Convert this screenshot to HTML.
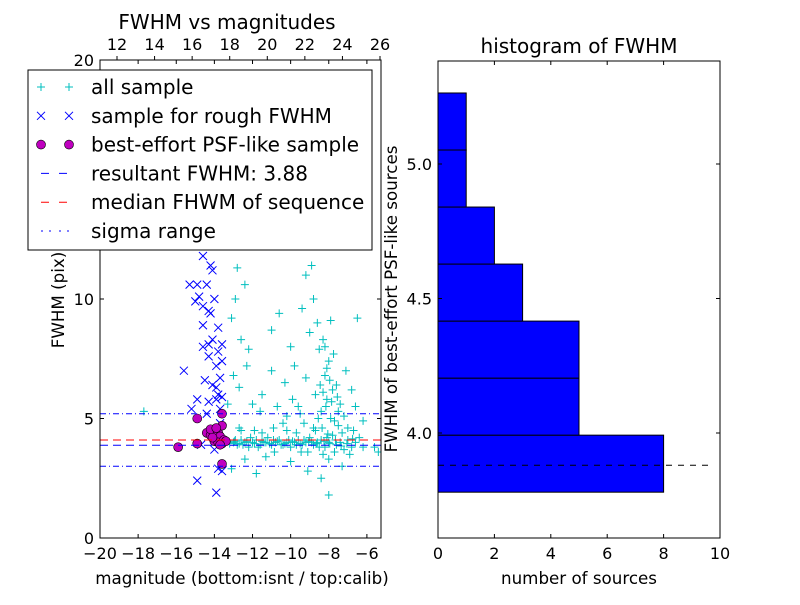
<!DOCTYPE html>
<html><head><meta charset="utf-8"><style>
body{margin:0;background:#fff;}
svg{font-family:"DejaVu Sans","Liberation Sans",sans-serif;}
</style></head><body>
<svg id="c" width="800" height="600" viewBox="0 0 800 600">
<rect width="800" height="600" fill="#fff"/>
</svg>
<script>
// ---- data ----
const allSample = [
[-13,4.0],[-12.8,3.9],[-12.6,4.1],[-12.4,4.0],[-12.2,3.8],[-12,4.0],[-11.8,4.1],[-11.6,3.9],[-11.4,4.0],[-11.2,4.2],[-11,3.9],[-10.8,4.0],[-10.6,4.1],[-10.4,3.9],[-10.2,4.0],[-10,3.8],[-9.8,4.0],[-9.6,4.1],[-9.4,3.9],[-9.2,4.0],[-9,4.2],[-8.8,3.9],[-8.6,4.0],[-8.4,4.1],[-8.2,3.8],[-8,4.0],[-7.8,4.3],[-7.6,3.9],[-7.4,4.0],[-7.2,3.7],[-7,4.1],[-6.8,3.8],[-6.6,4.0],[-6.4,4.2],[-6.2,3.8],
[-12.9,4.1],[-12.5,3.9],[-12.1,4.2],[-11.7,3.8],[-11.3,4.0],[-10.9,4.1],[-10.5,3.9],[-10.1,4.1],[-9.7,3.9],[-9.3,4.1],[-8.9,4.0],[-8.5,3.8],[-8.1,4.2],[-7.7,3.6],[-7.3,4.4],[-6.9,3.5],[-8.3,3.5],[-8.7,4.5],[-9.1,3.6],[-7.5,4.7],[-8,3.3],[-7.9,5.0],[-8.4,5.3],[-8.1,5.8],[-7.8,6.2],[-8.2,6.8],[-8.0,7.4],[-7.6,6.4],[-8.5,7.9],[-7.4,5.6],[-7.2,5.1],
[-13.2,3.95],[-12.95,4.05],[-12.7,3.95],[-12.3,4.05],[-11.9,3.95],[-11.5,4.05],[-11.1,3.95],[-10.7,4.05],[-10.3,3.95],[-9.9,4.05],[-9.5,3.95],[-9.05,4.05],[-8.65,3.95],[-8.25,4.05],[-7.95,3.95],[-7.65,4.1],[-7.35,3.85],[-7.05,3.95],[-6.75,4.15],[-8.05,4.35],[-8.35,4.6],[-7.7,4.9],[-8.15,5.5],[-7.85,5.7],[-8.3,6.1],[-7.95,6.6],[-8.1,7.1],[-7.75,7.7],[-8.2,8.0],[-8.45,6.4],[-7.55,5.9],[-8.55,5.0],[-9.7,4.4],[-10.2,4.5],[-11.5,4.4],[-12.6,4.5],[-9.45,3.6],[-10.85,3.6],
[-12.7,6.3],[-12.3,7.2],[-12.6,8.3],[-13.1,9.2],[-12.9,10.0],[-12.4,10.6],[-12.8,11.3],[-11.5,6.0],[-11,7.0],[-10.7,5.5],[-10.3,6.5],[-10,8.0],[-9.8,7.2],[-9.5,5.2],[-9.2,6.7],[-9.0,8.6],[-9.4,9.6],[-9.2,11.0],[-8.9,11.4],[-8.8,10.0],[-8.6,9.0],[-8.3,8.3],[-7.9,9.1],[-6.5,9.2],[-6.8,6.2],[-7.1,7.0],[-6.6,5.5],[-10.9,4.6],[-11.6,5.3],[-12.0,5.6],[-10.4,4.8],[-9.9,5.8],[-11.3,3.4],[-10.0,3.2],[-9.1,2.8],[-8.4,2.5],[-7.3,3.0],[-11.8,2.7],[-8.0,1.8],[-12.4,3.3],[-13.1,2.9],[-17.7,5.3],[-13.3,5.6],[-13.0,6.8],[-12.2,7.9],[-11.0,8.7],[-10.6,9.4],[-10.2,5.1],[-9.6,5.5],[-8.7,6.0],[-7.5,5.3],[-7.0,4.6],[-6.7,4.5],[-6.2,4.9],[-5.6,3.8],[-5.4,3.6],[-11.9,4.5],[-12.7,4.6],[-8.8,4.6],[-9.3,4.8]
];
const roughSample = [
[-14.6,11.8],[-14.2,11.4],[-14.1,11.2],[-15.3,10.6],[-14.9,10.6],[-14.4,10.6],[-15.0,9.9],[-14.8,10.1],[-14.6,9.7],[-14.3,9.5],[-14.2,9.4],[-14.6,8.9],[-13.8,8.8],[-14.3,8.1],[-13.6,8.1],[-13.8,7.8],[-14.6,8.0],[-14.3,7.6],[-13.6,7.4],[-13.9,7.2],[-15.6,7.0],[-14.5,6.6],[-14.1,6.4],[-13.9,6.3],[-13.8,6.0],[-13.6,5.9],[-14.3,5.7],[-14.9,5.8],[-13.9,5.8],[-14.4,5.2],[-15.2,5.4],[-13.7,5.4],[-14.7,3.9],[-14.9,2.4],[-13.8,2.9],[-13.6,2.8],[-13.9,1.9],[-14.0,3.7],[-13.7,4.8],[-14.1,8.3],[-14.0,10.0],[-13.7,6.7]
];
const psfSample = [
[-15.9,3.8],[-14.9,3.95],[-14.4,4.4],[-14.2,4.3],[-14.1,4.5],[-13.9,4.3],[-13.8,4.4],[-13.7,4.25],[-14.0,4.05],[-13.8,4.0],[-13.6,3.95],[-13.5,4.1],[-13.4,4.05],[-13.7,3.9],[-13.6,4.7],[-14.1,4.2],[-14.2,4.55],[-13.6,5.2],[-13.6,3.1],[-14.9,5.0],[-13.9,4.6]
];
const resultantFwhm = 3.88;
const medianFwhm = 4.1;
const sigmaRange = [3.0, 5.2];
const xTicks = [-20,-18,-16,-14,-12,-10,-8,-6];
const topTicks = [12,14,16,18,20,22,24,26];
const yTicks = [0,5,10,20];
const histEdges = [3.78,3.992,4.204,4.416,4.628,4.84,5.052,5.264];
const histCounts = [8,5,5,3,2,1,1];
const histXTicks = [0,2,4,6,8,10];
const histYTicks = [4.0,4.5,5.0];

const NS="http://www.w3.org/2000/svg";
const svg=document.getElementById('c');
function mk(tag,attrs,parent){const e=document.createElementNS(NS,tag);for(const k in attrs)e.setAttribute(k,attrs[k]);(parent||svg).appendChild(e);return e;}
function txt(s,attrs,parent){const e=mk('text',attrs,parent);e.textContent=s;return e;}

const L={x0:100,x1:381,y0:538,y1:60};
const xs=m=>L.x0+(m+20)*(L.x1-L.x0)/14.74;
const ys=f=>L.y0-f*(L.y0-L.y1)/20;
const xt=t=>117+(t-12)*(380-117)/14;
const gL=mk('g',{});

const cp=mk('clipPath',{id:'clipL'},gL);
mk('rect',{x:L.x0,y:L.y1,width:L.x1-L.x0,height:L.y0-L.y1},cp);
const pts=mk('g',{'clip-path':'url(#clipL)'},gL);
allSample.forEach(p=>{const x=xs(p[0]),y=ys(p[1]);
 const e=mk('path',{d:`M${x-4} ${y}H${x+4}M${x} ${y-4}V${y+4}`,stroke:'#00bfbf','stroke-width':1},pts);
 });
roughSample.forEach(p=>{const x=xs(p[0]),y=ys(p[1]);
 const e=mk('path',{d:`M${x-4} ${y-4}L${x+4} ${y+4}M${x-4} ${y+4}L${x+4} ${y-4}`,stroke:'#0000ff','stroke-width':1},pts);
 });
psfSample.forEach(p=>{
 const e=mk('circle',{cx:xs(p[0]),cy:ys(p[1]),r:4.5,fill:'#bf00bf',stroke:'#000','stroke-width':0.6},pts);
 });
let l;
l=mk('line',{x1:L.x0,x2:L.x1,y1:ys(medianFwhm),y2:ys(medianFwhm),stroke:'#ff0000','stroke-dasharray':'8,5'},pts);

l=mk('line',{x1:L.x0,x2:L.x1,y1:ys(resultantFwhm),y2:ys(resultantFwhm),stroke:'#0000ff','stroke-dasharray':'8,5'},pts);

sigmaRange.forEach(v=>{l=mk('line',{x1:L.x0,x2:L.x1,y1:ys(v),y2:ys(v),stroke:'#0000ff','stroke-dasharray':'6,3,1,3'},pts);
 });
mk('rect',{x:L.x0,y:L.y1,width:L.x1-L.x0,height:L.y0-L.y1,fill:'none',stroke:'#000'},gL);
xTicks.forEach(t=>{const x=xs(t);mk('path',{d:`M${x} ${L.y0}v-4M${x} ${L.y1}v4`,stroke:'#000'},gL);
 const e=txt((t<0?'\u2212':'')+Math.abs(t),{x:x,y:559,'font-size':16,'text-anchor':'middle'},gL);
 });
topTicks.forEach(t=>{const x=xt(t);mk('path',{d:`M${x} ${L.y1}v-4`,stroke:'#000'},gL);
 const e=txt(String(t),{x:x,y:50,'font-size':16,'text-anchor':'middle'},gL);
 });
yTicks.forEach(t=>{const y=ys(t);mk('path',{d:`M${L.x0} ${y}h4M${L.x1} ${y}h-4`,stroke:'#000'},gL);
 const e=txt(String(t),{x:94,y:y+6,'font-size':16,'text-anchor':'end'},gL);
 });
let t;
t=txt('magnitude (bottom:isnt / top:calib)',{x:242,y:584,'font-size':16.7,'text-anchor':'middle'},gL);

t=txt('FWHM (pix)',{x:0,y:0,'font-size':16.7,'text-anchor':'middle',transform:'translate(64,300) rotate(-90)'},gL);

t=txt('FWHM vs magnitudes',{x:227,y:29,'font-size':20,'text-anchor':'middle'},gL);


const lg=mk('g',{});

mk('rect',{x:28,y:70,width:344,height:180,fill:'#fff',stroke:'#000'},lg);
const labels=['all sample','sample for rough FWHM','best-effort PSF-like sample','resultant FWHM: 3.88','median FHWM of sequence','sigma range'];
labels.forEach((s,i)=>{const y=87+i*28.8;
 [41,69].forEach(x=>{
  if(i==0)mk('path',{d:`M${x-4} ${y}H${x+4}M${x} ${y-4}V${y+4}`,stroke:'#00bfbf'},lg);
  if(i==1)mk('path',{d:`M${x-4} ${y-4}L${x+4} ${y+4}M${x-4} ${y+4}L${x+4} ${y-4}`,stroke:'#0000ff'},lg);
  if(i==2)mk('circle',{cx:x,cy:y,r:4.5,fill:'#bf00bf',stroke:'#000','stroke-width':0.6},lg);});
 if(i==3)mk('line',{x1:41,x2:69,y1:y,y2:y,stroke:'#0000ff','stroke-dasharray':'8,10'},lg);
 if(i==4)mk('line',{x1:41,x2:69,y1:y,y2:y,stroke:'#ff0000','stroke-dasharray':'8,10'},lg);
 if(i==5)mk('line',{x1:41,x2:69,y1:y,y2:y,stroke:'#0000ff','stroke-dasharray':'2,6,2,8'},lg);
 const e=txt(s,{x:91,y:y+7,'font-size':20},lg);
 });

const R={x0:438,x1:720,y0:538,y1:61};
const hx=c=>R.x0+c*(R.x1-R.x0)/10;
const hy=v=>433-(v-4.0)*269;
const gR=mk('g',{});

histCounts.forEach((c,i)=>{const yTop=hy(histEdges[i+1]),yBot=hy(histEdges[i]);
 const e=mk('rect',{x:hx(0),y:yTop,width:hx(c)-hx(0),height:yBot-yTop,fill:'#0000ff',stroke:'#000'},gR);
 });
l=mk('line',{x1:R.x0,x2:710,y1:hy(resultantFwhm),y2:hy(resultantFwhm),stroke:'#000','stroke-dasharray':'6,6'},gR);

mk('rect',{x:R.x0,y:R.y1,width:R.x1-R.x0,height:R.y0-R.y1,fill:'none',stroke:'#000'},gR);
histXTicks.forEach(v=>{const x=hx(v);mk('path',{d:`M${x} ${R.y0}v-4M${x} ${R.y1}v4`,stroke:'#000'},gR);
 const e=txt(String(v),{x:x,y:559,'font-size':16,'text-anchor':'middle'},gR);
 });
histYTicks.forEach(v=>{const y=hy(v);mk('path',{d:`M${R.x0} ${y}h4M${R.x1} ${y}h-4`,stroke:'#000'},gR);
 const e=txt(v.toFixed(1),{x:432,y:y+6,'font-size':16,'text-anchor':'end'},gR);
 });
t=txt('number of sources',{x:579,y:584,'font-size':16.7,'text-anchor':'middle'},gR);

t=txt('FWHM of best-effort PSF-like sources',{x:0,y:0,'font-size':16.7,'text-anchor':'middle',transform:'translate(397,299) rotate(-90)'},gR);

t=txt('histogram of FWHM',{x:579,y:53,'font-size':20,'text-anchor':'middle'},gR);

</script>
</body></html>
